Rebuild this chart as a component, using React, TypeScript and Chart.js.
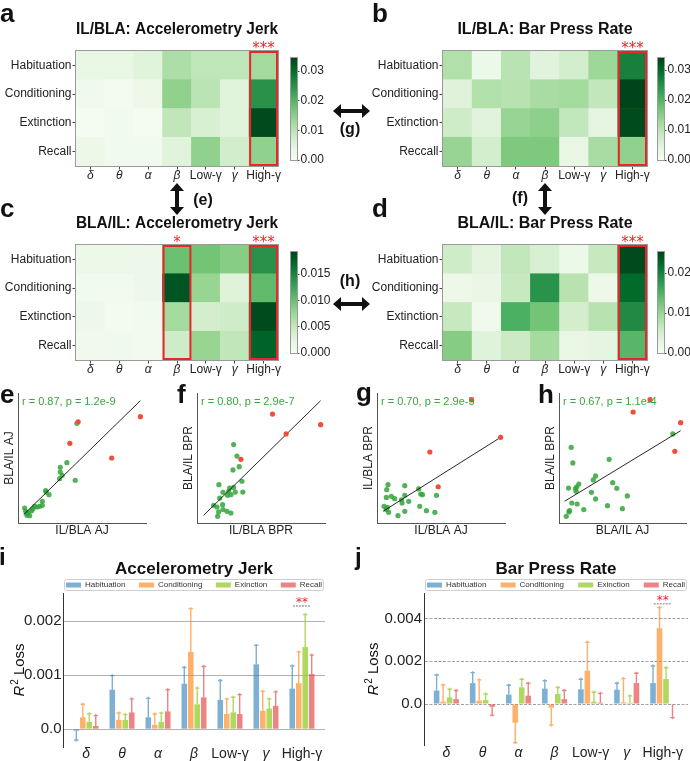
import React, { useEffect, useRef } from "react";
import { Chart, registerables } from "chart.js";

Chart.register(...registerables);

const FONT = "'Liberation Sans', Arial, Helvetica, sans-serif";
const STAR_FONT = "'DejaVu Sans', sans-serif";
Chart.defaults.font.family = FONT;
Chart.defaults.font.size = 12;
Chart.defaults.color = "#222";

// ---------------- data ----------------
const BANDS = ["δ", "θ", "α", "β", "Low-γ", "γ", "High-γ"];
const PHASES_AJ = ["Habituation", "Conditioning", "Extinction", "Recall"];
const PHASES_BPR = ["Habituation", "Conditioning", "Extinction", "Reccall"];

// heatmaps: rows = phases (top to bottom), columns = bands
const HEAT_A = [
  [0.0035, 0.0035, 0.005, 0.0115, 0.0095, 0.0095, 0.0125],
  [0.0017, 0.001, 0.0025, 0.0145, 0.01, 0.005, 0.025],
  [0.0008, 0.0015, 0.0008, 0.0093, 0.0062, 0.005, 0.0338],
  [0.0025, 0.0015, 0.0015, 0.005, 0.0145, 0.007, 0.0145],
];
const HEAT_B = [
  [0.011, 0.0025, 0.01, 0.0048, 0.0068, 0.013, 0.027],
  [0.005, 0.011, 0.0102, 0.012, 0.0125, 0.009, 0.034],
  [0.0075, 0.0048, 0.0136, 0.0146, 0.009, 0.004, 0.0333],
  [0.0136, 0.0068, 0.016, 0.016, 0.0034, 0.012, 0.0143],
];
const HEAT_C = [
  [0.0015, 0.0015, 0.0013, 0.01, 0.0096, 0.0086, 0.014],
  [0.0008, 0.0008, 0.0013, 0.0182, 0.0077, 0.0029, 0.0106],
  [0.0013, 0.0006, 0.0008, 0.0071, 0.0038, 0.0042, 0.0188],
  [0.001, 0.0009, 0.0007, 0.0042, 0.0077, 0.0052, 0.0173],
];
const HEAT_D = [
  [0.0056, 0.0033, 0.0068, 0.0046, 0.002, 0.0063, 0.0248],
  [0.0018, 0.0023, 0.0063, 0.0182, 0.0076, 0.0018, 0.0223],
  [0.0063, 0.0013, 0.0152, 0.0127, 0.005, 0.0076, 0.0192],
  [0.0114, 0.0038, 0.0058, 0.0091, 0.0025, 0.003, 0.0144],
];
const VMAX_A = 0.0344;
const VMAX_B = 0.034;
const VMAX_C = 0.0192;
const VMAX_D = 0.0253;
const CBAR_TICKS_A = [0, 0.01, 0.02, 0.03];
const CBAR_TICKS_B = [0, 0.01, 0.02, 0.03];
const CBAR_TICKS_C = [0, 0.005, 0.01, 0.015];
const CBAR_TICKS_D = [0, 0.01, 0.02];
const SIG_A = [{ col: 6, stars: "***" }];
const SIG_B = [{ col: 6, stars: "***" }];
const SIG_C = [{ col: 3, stars: "*" }, { col: 6, stars: "***" }];
const SIG_D = [{ col: 6, stars: "***" }];

// scatter plots (axis units 0..100, no ticks shown)
const E_GREEN = [[5.2, 11.5], [6.0, 9.0], [7.3, 7.4], [9.1, 5.6], [8.0, 8.0], [7.0, 6.0], [10.6, 9.5], [11.5, 10.8], [13.0, 12.8], [14.8, 12.3], [16.9, 12.8], [19.0, 13.6], [19.0, 16.7], [21.6, 24.9], [22.1, 23.8], [24.2, 21.8], [32.5, 34.1], [34.5, 36.7], [33.0, 39.2], [33.0, 42.8], [38.2, 46.4], [44.7, 32.8], [46.0, 76.7]];
const E_RED = [[47.0, 77.9], [40.5, 61.3], [73.2, 50.0], [95.6, 81.8]];
const E_FIT = [[4.4, 6.4], [95.6, 94.1]];

const F_GREEN = [[13.0, 13.6], [15.6, 12.3], [16.9, 8.5], [16.1, 5.1], [20.0, 14.1], [20.3, 10.3], [23.4, 9.0], [26.5, 7.7], [17.7, 19.2], [17.1, 29.5], [20.3, 23.6], [23.9, 21.3], [25.5, 26.9], [24.7, 24.4], [26.5, 21.8], [28.6, 27.4], [29.9, 23.8], [35.8, 23.8], [35.1, 32.1], [33.0, 43.3], [28.1, 40.8], [31.2, 51.5], [28.6, 60.3]];
const F_RED = [[34.3, 49.0], [59.0, 83.8], [69.6, 68.5], [96.6, 75.6]];
const F_FIT = [[5.2, 5.9], [96.6, 94.1]];

const G_GREEN = [[5.5, 12.8], [7.3, 10.3], [9.1, 8.2], [8.1, 12.1], [16.4, 5.6], [21.7, 9.0], [19.6, 15.4], [19.1, 17.9], [21.7, 21.3], [24.8, 16.7], [13.8, 18.7], [11.2, 20.5], [7.3, 19.7], [7.6, 25.6], [8.6, 29.5], [21.7, 28.7], [32.6, 26.2], [34.2, 22.3], [35.5, 21.8], [33.4, 12.8], [38.6, 9.5], [45.2, 8.2], [46.5, 21.3]];
const G_RED = [[41.3, 54.6], [47.8, 27.9], [96.6, 65.9], [73.9, 94.6]];
const G_FIT = [[4.7, 9.0], [96.6, 65.9]];

const H_GREEN = [[5.7, 5.1], [7.8, 8.5], [8.3, 9.5], [10.1, 15.4], [14.3, 14.6], [19.5, 10.3], [7.5, 26.9], [13.0, 26.4], [13.5, 24.4], [14.0, 27.9], [15.6, 30.0], [25.5, 23.6], [28.8, 18.5], [27.0, 33.1], [28.8, 36.2], [38.2, 13.3], [42.3, 31.0], [45.5, 26.7], [49.9, 11.0], [53.8, 20.8], [39.5, 49.0], [10.9, 46.2], [9.6, 58.2], [89.6, 68.5]];
const H_RED = [[58.4, 85.4], [71.7, 94.9], [91.2, 55.1], [95.8, 77.2]];
const H_FIT = [[4.4, 16.7], [95.8, 71.0]];

// bar charts: R^2 loss per band, and error (one-sided)
const LEGEND_LABELS = ["Habituation", "Conditioning", "Exinction", "Recall"];
const AJ_HAB = [-0.00003, 0.00073, 0.00022, 0.00084, 0.00054, 0.0012, 0.00075];
const AJ_HAB_ERR = [0.00017, 0.00026, 0.00035, 0.0003, 0.00036, 0.00035, 0.00042];
const AJ_COND = [0.00022, 0.00017, 0.00008, 0.00143, 0.00028, 0.00034, 0.00085];
const AJ_COND_ERR = [0.00024, 0.00013, 0.0002, 0.0008, 0.00028, 0.00036, 0.00058];
const AJ_EXT = [0.000136, 0.00017, 0.000136, 0.00046, 0.00031, 0.00038, 0.00152];
const AJ_EXT_ERR = [0.00015, 0.0001, 0.00016, 0.0003, 0.00028, 0.00018, 0.0006];
const AJ_REC = [0.00006, 0.00031, 0.00033, 0.00059, 0.00028, 0.00043, 0.00102];
const AJ_REC_ERR = [0.00019, 0.00025, 0.0004, 0.00057, 0.00036, 0.00026, 0.00035];

const BPR_HAB = [0.00063, 0.00098, 0.00044, 0.00072, 0.00069, 0.00067, 0.00098];
const BPR_HAB_ERR = [0.00073, 0.00049, 0.00044, 0.00037, 0.00047, 0.0003, 0.0008];
const BPR_COND = [0.00011, 0.00016, -0.00088, -0.00017, 0.00156, 0.00008, 0.00355];
const BPR_COND_ERR = [0.00078, 0.00097, 0.00092, 0.00081, 0.00133, 0.00111, 0.00097];
const BPR_EXT = [0.00031, 0.00019, 0.00078, 0.00047, 0.00011, 0.00006, 0.00117];
const BPR_EXT_ERR = [0.00038, 0.00028, 0.00038, 0.0003, 0.00044, 0.00032, 0.00053];
const BPR_REC = [0.00023, -0.00013, 0.00039, 0.00023, 0.00006, 0.00098, -0.00003];
const BPR_REC_ERR = [0.0004, 0.00039, 0.00058, 0.0004, 0.00044, 0.00046, 0.00061];

const AJ_TICKS = [0, 0.001, 0.002];
const BPR_TICKS = [0, 0.002, 0.004];
const AJ_SIG_LINE = 0.00228;
const BPR_SIG_LINE = 0.00469;

// ---------------- styles ----------------
const C_HAB = "rgba(31,119,180,0.58)";
const C_COND = "rgba(255,127,14,0.62)";
const C_EXT = "rgba(154,205,50,0.78)";
const C_REC = "rgba(226,48,48,0.6)";
const PT_GREEN = "rgba(52,165,58,0.85)";
const PT_RED = "rgb(240,78,58)";
const TXT_GREEN = "#3aa63c";
const SIG_RED = "#e8262b";

const GREENS = [
  [247, 252, 245], [229, 245, 224], [199, 233, 192], [161, 217, 155], [116, 196, 118],
  [65, 171, 93], [35, 139, 69], [0, 109, 44], [0, 68, 27],
];
function greens(t: number) {
  const tt = Math.max(0, Math.min(1, t));
  const p = tt * 8;
  const i = Math.min(7, Math.floor(p));
  const f = p - i;
  const a = GREENS[i], b = GREENS[i + 1];
  const c = a.map((v, k) => Math.round(v + (b[k] - v) * f));
  return `rgb(${c[0]},${c[1]},${c[2]})`;
}
const bandFont = (size: number) => (c: any) => ({
  size,
  family: FONT,
  style: c.index === 4 || c.index === 6 ? "normal" : "italic",
});

// ---------------- plugins ----------------
const heatPlugin = {
  id: "heatDeco",
  afterDraw(chart: any, _a: any, opts: any) {
    const { ctx, chartArea: ca, scales } = chart;
    const x = scales.x;
    ctx.save();
    ctx.strokeStyle = "#9a9a9a";
    ctx.lineWidth = 1;
    ctx.strokeRect(ca.left - 0.5, ca.top - 0.5, ca.width + 1, ca.height + 1);
    (opts.sig || []).forEach((s: any) => {
      const l = x.getPixelForValue(s.col - 0.5);
      const r = x.getPixelForValue(s.col + 0.5);
      ctx.strokeStyle = SIG_RED;
      ctx.lineWidth = 2;
      ctx.strokeRect(l + 1, ca.top + 1, r - l - 2, ca.height - 2);
      ctx.fillStyle = SIG_RED;
      ctx.font = `15px ${STAR_FONT}`;
      ctx.textAlign = "center";
      ctx.textBaseline = "alphabetic";
      ctx.fillText(s.stars, (l + r) / 2, ca.top + 2);
    });
    ctx.restore();
  },
};

const colorbarPlugin = {
  id: "cbar",
  beforeDatasetsDraw(chart: any) {
    const { ctx, chartArea: ca, scales } = chart;
    const y = scales.y;
    const y0 = y.getPixelForValue(y.min);
    const y1 = y.getPixelForValue(y.max);
    const g = ctx.createLinearGradient(0, y0, 0, y1);
    GREENS.forEach((c, i) => g.addColorStop(i / 8, `rgb(${c[0]},${c[1]},${c[2]})`));
    ctx.save();
    ctx.fillStyle = g;
    ctx.fillRect(ca.left, y1, ca.width, y0 - y1);
    ctx.strokeStyle = "#9a9a9a";
    ctx.lineWidth = 1;
    ctx.strokeRect(ca.left - 0.5, y1 - 0.5, ca.width + 1, y0 - y1 + 1);
    ctx.restore();
  },
};

const statPlugin = {
  id: "statText",
  afterDraw(chart: any, _a: any, opts: any) {
    const { ctx, chartArea: ca } = chart;
    ctx.save();
    ctx.font = `11px ${FONT}`;
    ctx.fillStyle = TXT_GREEN;
    ctx.textAlign = "left";
    ctx.textBaseline = "middle";
    ctx.fillText(opts.text, ca.left + 4, ca.top + 9);
    ctx.restore();
  },
};

const errPlugin = {
  id: "errBars",
  afterDatasetsDraw(chart: any) {
    const { ctx, scales } = chart;
    const y = scales.y;
    ctx.save();
    chart.data.datasets.forEach((ds: any, di: number) => {
      const meta = chart.getDatasetMeta(di);
      meta.data.forEach((bar: any, i: number) => {
        const v = ds.data[i].y;
        const dir = v < 0 ? -1 : 1;
        const p0 = y.getPixelForValue(v);
        const p1 = y.getPixelForValue(v + dir * ds.errors[i]);
        ctx.strokeStyle = ds.backgroundColor;
        ctx.lineWidth = 1.4;
        ctx.beginPath();
        ctx.moveTo(bar.x, p0);
        ctx.lineTo(bar.x, p1 - dir * 1.5);
        ctx.moveTo(bar.x - 2.2, p1);
        ctx.lineTo(bar.x + 2.2, p1);
        ctx.stroke();
      });
    });
    ctx.restore();
  },
};

const barDecoPlugin = {
  id: "barDeco",
  afterDraw(chart: any, _a: any, opts: any) {
    const { ctx, chartArea: ca, scales } = chart;
    ctx.save();
    // legend (expanded across the axes width)
    ctx.font = `8px ${FONT}`;
    const x0 = ca.left + 1, x1 = ca.right - 1;
    const top = ca.top - 14, bottom = ca.top - 2;
    ctx.fillStyle = "rgba(255,255,255,0.9)";
    ctx.strokeStyle = "#cfcfcf";
    ctx.lineWidth = 1;
    ctx.beginPath();
    (ctx as any).roundRect(x0 + 0.5, top + 0.5, x1 - x0 - 1, bottom - top - 1, 2);
    ctx.fill();
    ctx.stroke();
    const dss = chart.data.datasets;
    const boxW = 15, boxH = 5, gap = 4;
    const widths = dss.map((d: any) => boxW + gap + ctx.measureText(d.label).width);
    const total = widths.reduce((s: number, w: number) => s + w, 0);
    const sep = (x1 - x0 - 4 - total) / (dss.length - 1);
    let x = x0 + 2;
    const cy = (top + bottom) / 2;
    dss.forEach((d: any, i: number) => {
      ctx.fillStyle = d.backgroundColor;
      ctx.fillRect(x, cy - boxH / 2, boxW, boxH);
      ctx.fillStyle = "#333";
      ctx.textAlign = "left";
      ctx.textBaseline = "middle";
      ctx.fillText(d.label, x + boxW + gap, cy);
      x += widths[i] + sep;
    });
    // y-axis title: R^2 Loss
    const tx = ca.left + opts.titleDx;
    const ty = (ca.top + ca.bottom) / 2;
    ctx.translate(tx, ty);
    ctx.rotate(-Math.PI / 2);
    ctx.fillStyle = "#111";
    ctx.textAlign = "left";
    ctx.textBaseline = "alphabetic";
    const fR = `italic 15px ${FONT}`, f2 = `10px ${FONT}`, fL = `15px ${FONT}`;
    ctx.font = fR; const wR = ctx.measureText("R").width;
    ctx.font = f2; const w2 = ctx.measureText("2").width;
    ctx.font = fL; const wL = ctx.measureText(" Loss").width;
    let cx = -(wR + w2 + 1 + wL) / 2;
    ctx.font = fR; ctx.fillText("R", cx, 0); cx += wR + 1;
    ctx.font = f2; ctx.fillText("2", cx, -6); cx += w2;
    ctx.font = fL; ctx.fillText(" Loss", cx, 0);
    ctx.setTransform(1, 0, 0, 1, 0, 0);
    // significance
    const sx = scales.x.getPixelForValue(opts.sigCol);
    const sy = scales.y.getPixelForValue(opts.sigLine);
    ctx.strokeStyle = "#777";
    ctx.lineWidth = 1;
    ctx.setLineDash([2, 1]);
    ctx.beginPath();
    ctx.moveTo(sx - 9, sy);
    ctx.lineTo(sx + 9, sy);
    ctx.stroke();
    ctx.setLineDash([]);
    ctx.fillStyle = SIG_RED;
    ctx.font = `12px ${STAR_FONT}`;
    ctx.textAlign = "center";
    ctx.fillText("**", sx, sy);
    ctx.restore();
  },
};

// ---------------- configs ----------------
function heatConfig(title: string, phases: string[], values: number[][], vmax: number, sig: any[], yW: number, padRight: number) {
  return {
    type: "bar",
    data: {
      labels: BANDS,
      datasets: [3, 2, 1, 0].map((r) => ({
        label: phases[r],
        data: BANDS.map(() => 1),
        backgroundColor: values[r].map((v) => greens(v / vmax)),
        borderWidth: 0,
        categoryPercentage: 1,
        barPercentage: 1,
      })),
    },
    options: {
      animation: false,
      responsive: false,
      events: [],
      layout: { padding: { left: 0, right: padRight, top: 0, bottom: 0 } },
      plugins: {
        legend: { display: false },
        tooltip: { enabled: false },
        title: { display: true, text: title, fullSize: false, color: "#111", font: { size: 16, weight: "bold", family: FONT }, padding: { top: 20.4, bottom: 11.4 } },
        heatDeco: { sig },
      },
      scales: {
        x: {
          stacked: true,
          offset: true,
          grid: { offset: false, drawOnChartArea: false, drawTicks: true, tickLength: 3.5, color: "#444" },
          border: { display: false },
          ticks: { padding: -1.5, font: bandFont(12), color: "#222", maxRotation: 0, minRotation: 0, autoSkip: false },
          afterFit: (s: any) => { s.height = 24; },
        },
        y: {
          stacked: true,
          min: 0,
          max: 4,
          afterBuildTicks: (s: any) => { s.ticks = [0.5, 1.5, 2.5, 3.5].map((value) => ({ value })); },
          ticks: { callback: (v: any) => phases[3 - Math.floor(Number(v))], font: { size: 12 }, padding: 1, color: "#222" },
          grid: { drawOnChartArea: false, drawTicks: true, tickLength: 3.5, color: "#444" },
          border: { display: false },
          afterFit: (s: any) => { s.width = yW; },
        },
      },
    },
    plugins: [heatPlugin],
  };
}

function cbarConfig(vmax: number, ticks: number[], decimals: number, padTop: number, padBottom: number, axisW: number) {
  return {
    type: "scatter",
    data: { datasets: [] },
    options: {
      animation: false,
      responsive: false,
      events: [],
      layout: { padding: { left: 6, right: 0, top: padTop, bottom: padBottom } },
      plugins: { legend: { display: false }, tooltip: { enabled: false } },
      scales: {
        x: { display: false },
        y: {
          position: "right",
          min: 0,
          max: vmax,
          afterBuildTicks: (s: any) => { s.ticks = ticks.map((value) => ({ value })); },
          ticks: { callback: (v: any) => Number(v).toFixed(decimals), font: { size: 12 }, padding: 1, color: "#222" },
          grid: { drawOnChartArea: false, drawTicks: true, tickLength: 2.5, color: "#444" },
          border: { display: false },
          afterFit: (s: any) => { s.width = axisW; },
        },
      },
    },
    plugins: [colorbarPlugin],
  };
}

function scatterConfig(green: number[][], red: number[][], fit: number[][], stat: string, xLabel: string, yLabel: string, padRight: number) {
  const pts = (a: number[][]) => a.map(([x, y]) => ({ x, y }));
  return {
    type: "scatter",
    data: {
      datasets: [
        { data: pts(red), backgroundColor: PT_RED, pointRadius: 2.6, borderWidth: 0 },
        { data: pts(fit), showLine: true, borderColor: "#111", borderWidth: 0.9, pointRadius: 0, fill: false },
        { data: pts(green), backgroundColor: PT_GREEN, pointRadius: 2.6, borderWidth: 0 },
      ],
    },
    options: {
      animation: false,
      responsive: false,
      events: [],
      layout: { padding: { left: 0, right: padRight, top: 5, bottom: 0 } },
      plugins: { legend: { display: false }, tooltip: { enabled: false }, statText: { text: stat } },
      scales: {
        x: {
          type: "linear", min: 0, max: 100,
          ticks: { display: false },
          grid: { display: true, drawOnChartArea: false, drawTicks: false },
          border: { display: true, color: "#555", width: 1 },
          title: { display: true, text: xLabel, color: "#222", font: { size: 12 }, padding: { top: 0, bottom: 2 } },
          afterFit: (s: any) => { s.height = 17; },
        },
        y: {
          type: "linear", min: 0, max: 100,
          ticks: { display: false },
          grid: { display: true, drawOnChartArea: false, drawTicks: false },
          border: { display: true, color: "#555", width: 1 },
          title: { display: true, text: yLabel, color: "#222", font: { size: 12 }, padding: { top: 2.8, bottom: 0 } },
          afterFit: (s: any) => { s.width = 18; },
        },
      },
    },
    plugins: [statPlugin],
  };
}

function barConfig(title: string, series: number[][], errs: number[][], yMin: number, yMax: number, yTicks: number[], xMin: number, xMax: number, sigLine: number, o: any) {
  const colors = [C_HAB, C_COND, C_EXT, C_REC];
  return {
    type: "bar",
    data: {
      datasets: series.map((vals, k) => ({
        label: LEGEND_LABELS[k],
        data: vals.map((v, i) => ({ x: i, y: v })),
        errors: errs[k],
        backgroundColor: colors[k],
        borderWidth: 0,
        categoryPercentage: 0.72,
        barPercentage: 0.86,
      })),
    },
    options: {
      animation: false,
      responsive: false,
      events: [],
      layout: { padding: { left: 0, right: o.padRight, top: 0, bottom: 0 } },
      plugins: {
        legend: { display: false },
        tooltip: { enabled: false },
        title: { display: true, text: title, fullSize: false, color: "#111", font: { size: 17, weight: "bold", family: FONT }, padding: { top: 18.8, bottom: 13.8 } },
        barDeco: { titleDx: o.titleDx, sigCol: 6, sigLine },
      },
      scales: {
        x: {
          type: "linear",
          offset: false,
          min: xMin,
          max: xMax,
          afterBuildTicks: (s: any) => { s.ticks = BANDS.map((_b, i) => ({ value: i })); },
          ticks: { callback: (v: any) => BANDS[Math.round(Number(v))], font: bandFont(14), padding: o.xPad, color: "#222", maxRotation: 0, minRotation: 0, autoSkip: false },
          grid: { display: false, drawTicks: false, offset: false },
          border: { display: false },
          afterFit: (s: any) => { s.height = o.xH; },
        },
        y: {
          min: yMin,
          max: yMax,
          afterBuildTicks: (s: any) => { s.ticks = yTicks.map((value) => ({ value })); },
          ticks: { callback: (v: any) => (Number(v) === 0 ? "0.0" : Number(v).toFixed(3)), font: { size: 15 }, padding: o.yPad, color: "#222" },
          grid: { color: o.gridColor, lineWidth: 1, drawTicks: false },
          border: { display: true, color: "#333", width: 1, dash: o.dash },
          afterFit: (s: any) => { s.width = o.yW; },
        },
      },
    },
    plugins: [errPlugin, barDecoPlugin],
  };
}

// ---------------- components ----------------
function ChartCanvas(props: { left: number; top: number; width: number; height: number; make: () => any }) {
  const ref = useRef<HTMLCanvasElement>(null);
  useEffect(() => {
    const chart = new Chart(ref.current as HTMLCanvasElement, props.make());
    return () => chart.destroy();
  }, []);
  return (
    <canvas
      ref={ref}
      width={props.width}
      height={props.height}
      style={{ position: "absolute", left: props.left, top: props.top, width: props.width, height: props.height }}
    />
  );
}

function vArrow(cx: number, y1: number, y2: number) {
  const hl = 8, hw = 7, sw = 2;
  const p = [[cx, y1], [cx + hw, y1 + hl], [cx + sw, y1 + hl], [cx + sw, y2 - hl], [cx + hw, y2 - hl], [cx, y2], [cx - hw, y2 - hl], [cx - sw, y2 - hl], [cx - sw, y1 + hl], [cx - hw, y1 + hl]];
  return p.map((q) => q.join(",")).join(" ");
}
function hArrow(cy: number, x1: number, x2: number) {
  const hl = 8, hw = 7, sw = 2;
  const p = [[x1, cy], [x1 + hl, cy - hw], [x1 + hl, cy - sw], [x2 - hl, cy - sw], [x2 - hl, cy - hw], [x2, cy], [x2 - hl, cy + hw], [x2 - hl, cy + sw], [x1 + hl, cy + sw], [x1 + hl, cy + hw]];
  return p.map((q) => q.join(",")).join(" ");
}

export default function App() {
  const letter = { fontFamily: FONT, fontWeight: 700, fontSize: 26, fill: "#111" } as any;
  const arrowLbl = { fontFamily: FONT, fontWeight: 700, fontSize: 16, fill: "#111", textAnchor: "middle" } as any;
  return (
    <div style={{ position: "absolute", left: 0, top: 0, width: 690, height: 761, overflow: "hidden", background: "#fff" }}>
      {/* heatmaps */}
      <ChartCanvas left={0} top={0} width={285} height={190} make={() => heatConfig("IL/BLA: Accelerometry Jerk", PHASES_AJ, HEAT_A, VMAX_A, SIG_A, 76, 7)} />
      <ChartCanvas left={345} top={0} width={307} height={190} make={() => heatConfig("IL/BLA: Bar Press Rate", PHASES_BPR, HEAT_B, VMAX_B, SIG_B, 98, 5)} />
      <ChartCanvas left={0} top={194} width={285} height={190} make={() => heatConfig("BLA/IL: Accelerometry Jerk", PHASES_AJ, HEAT_C, VMAX_C, SIG_C, 76, 7)} />
      <ChartCanvas left={345} top={194} width={307} height={190} make={() => heatConfig("BLA/IL: Bar Press Rate", PHASES_BPR, HEAT_D, VMAX_D, SIG_D, 98, 5)} />
      {/* colorbars */}
      <ChartCanvas left={285} top={0} width={60} height={190} make={() => cbarConfig(VMAX_A, CBAR_TICKS_A, 2, 58, 30, 48)} />
      <ChartCanvas left={652} top={0} width={38} height={190} make={() => cbarConfig(VMAX_B, CBAR_TICKS_B, 2, 58, 30, 26)} />
      <ChartCanvas left={285} top={190} width={60} height={190} make={() => cbarConfig(VMAX_C, CBAR_TICKS_C, 3, 62, 27, 48)} />
      <ChartCanvas left={652} top={190} width={38} height={190} make={() => cbarConfig(VMAX_D, CBAR_TICKS_D, 2, 62, 27, 26)} />
      {/* scatters */}
      <ChartCanvas left={0} top={388} width={150} height={152} make={() => scatterConfig(E_GREEN, E_RED, E_FIT, "r = 0.87, p = 1.2e-9", "IL/BLA AJ", "BLA/IL AJ", 3)} />
      <ChartCanvas left={179} top={388} width={150} height={152} make={() => scatterConfig(F_GREEN, F_RED, F_FIT, "r = 0.80, p = 2.9e-7", "IL/BLA BPR", "BLA/IL BPR", 3)} />
      <ChartCanvas left={359} top={388} width={150} height={152} make={() => scatterConfig(G_GREEN, G_RED, G_FIT, "r = 0.70, p = 2.9e-5", "IL/BLA AJ", "IL/BLA BPR", 3)} />
      <ChartCanvas left={541} top={388} width={149} height={152} make={() => scatterConfig(H_GREEN, H_RED, H_FIT, "r = 0.67, p = 1.1e-4", "BLA/IL AJ", "BLA/IL BPR", 2)} />
      {/* bar charts */}
      <ChartCanvas left={0} top={540} width={345} height={221} make={() => barConfig("Accelerometry Jerk", [AJ_HAB, AJ_COND, AJ_EXT, AJ_REC], [AJ_HAB_ERR, AJ_COND_ERR, AJ_EXT_ERR, AJ_REC_ERR], -0.00033, 0.00252, AJ_TICKS, -0.64, 6.64, AJ_SIG_LINE, { padRight: 20, yW: 63, xH: 14, xPad: -1, yPad: 1.5, titleDx: -39, gridColor: "#b3b3b3", dash: [] })} />
      <ChartCanvas left={345} top={540} width={345} height={221} make={() => barConfig("Bar Press Rate", [BPR_HAB, BPR_COND, BPR_EXT, BPR_REC], [BPR_HAB_ERR, BPR_COND_ERR, BPR_EXT_ERR, BPR_REC_ERR], -0.00192, 0.0052, BPR_TICKS, -0.62, 6.7, BPR_SIG_LINE, { padRight: 2, yW: 79, xH: 16, xPad: 0, yPad: 2, titleDx: -46, gridColor: "#a0a0a0", dash: [3, 1.5] })} />
      {/* letters, arrows, arrow labels */}
      <svg width={690} height={761} style={{ position: "absolute", left: 0, top: 0, pointerEvents: "none" }}>
        <text x={0} y={22} style={letter}>a</text>
        <text x={372} y={22} style={letter}>b</text>
        <text x={0} y={217} style={letter}>c</text>
        <text x={372} y={217} style={letter}>d</text>
        <text x={0} y={403} style={letter}>e</text>
        <text x={177} y={403} style={letter}>f</text>
        <text x={356} y={401} style={letter}>g</text>
        <text x={538} y={403} style={letter}>h</text>
        <text x={-1} y={565} style={{ ...letter, fontSize: 24 }}>i</text>
        <text x={355} y={565} style={{ ...letter, fontSize: 24 }}>j</text>
        <polygon points={vArrow(177, 183, 215)} fill="#111" />
        <polygon points={vArrow(545, 183, 215)} fill="#111" />
        <polygon points={hArrow(111, 333, 370)} fill="#111" />
        <polygon points={hArrow(304, 333, 370)} fill="#111" />
        <text x={203} y={205} style={arrowLbl}>(e)</text>
        <text x={520} y={203} style={arrowLbl}>(f)</text>
        <text x={350} y={134} style={arrowLbl}>(g)</text>
        <text x={350} y={286} style={arrowLbl}>(h)</text>
      </svg>
    </div>
  );
}
